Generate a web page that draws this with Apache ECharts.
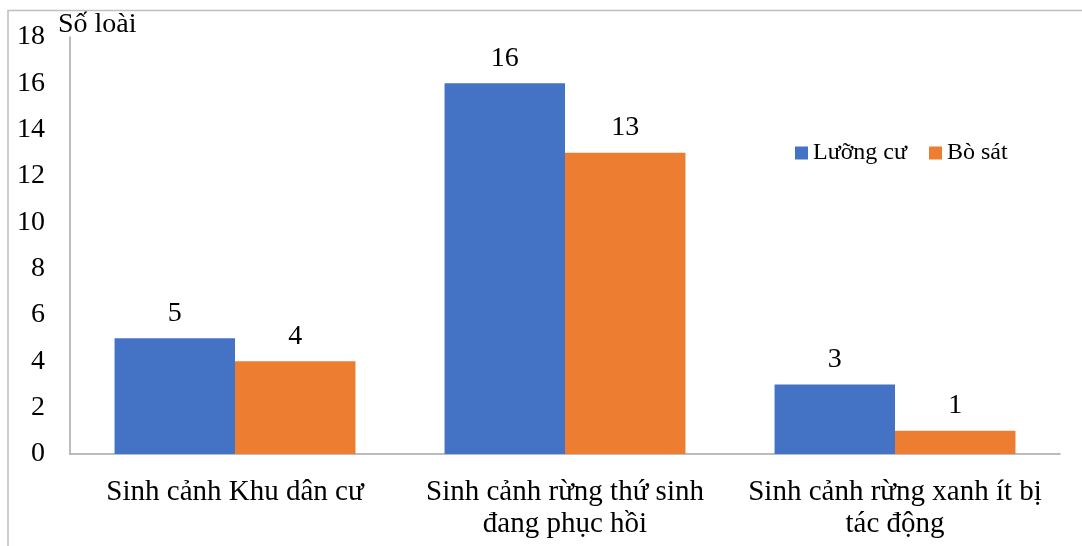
<!DOCTYPE html>
<html>
<head>
<meta charset="utf-8">
<script src="https://cdn.jsdelivr.net/npm/echarts@6/dist/echarts.min.js"></script>
<style>
  html, body { margin: 0; padding: 0; background: #fff; }
  #chart { width: 1082px; height: 546px; }
</style>
</head>
<body>
<div id="chart"></div>
<script>
// Habitat categories (x axis)
const categories = [
  'Sinh cảnh Khu dân cư',
  'Sinh cảnh rừng thứ sinh\nđang phục hồi',
  'Sinh cảnh rừng xanh ít bị\ntác động'
];
// Species counts per habitat
const amphibians = [5, 16, 3];   // Lưỡng cư
const reptiles = [4, 13, 1];     // Bò sát
const seriesNames = ['Lưỡng cư', 'Bò sát'];
const yTicks = { min: 0, max: 18, interval: 2 };

const FONT = '"Liberation Serif", "DejaVu Serif", serif';

const chart = echarts.init(document.getElementById('chart'), null, { renderer: 'canvas' });

const labelStyle = {
  show: true,
  position: 'top',
  distance: 11,
  color: '#000',
  fontFamily: FONT,
  fontSize: 28
};

chart.setOption({
  backgroundColor: '#fff',
  animation: false,
  graphic: [
    {
      type: 'polyline',
      shape: { points: [[8, 546], [8, 10.5], [1082, 10.5]] },
      style: { stroke: '#bfbfbf', lineWidth: 1.5, fill: null }
    }
  ],
  legend: {
    left: 790,
    top: 136,
    itemWidth: 13,
    itemHeight: 13,
    itemGap: 22,
    icon: 'rect',
    textStyle: { fontFamily: FONT, fontSize: 24, color: '#000' },
    data: seriesNames
  },
  grid: { left: 70, right: 22, top: 37, bottom: 92, containLabel: false },
  xAxis: {
    type: 'category',
    data: categories,
    axisLine: { lineStyle: { color: '#a6a6a6', width: 1.5 } },
    axisTick: { show: false },
    axisLabel: {
      margin: 22,
      interval: 0,
      color: '#000',
      fontFamily: FONT,
      fontSize: 29,
      lineHeight: 32
    }
  },
  yAxis: {
    type: 'value',
    min: yTicks.min,
    max: yTicks.max,
    interval: yTicks.interval,
    name: 'Số loài',
    nameLocation: 'end',
    nameGap: 0,
    nameTextStyle: {
      fontFamily: FONT, fontSize: 28, color: '#000',
      align: 'left', verticalAlign: 'bottom', padding: [0, 0, -2, -12]
    },
    axisLine: { show: true, lineStyle: { color: '#a6a6a6', width: 1.5 } },
    axisTick: { show: false },
    splitLine: { show: false },
    axisLabel: {
      margin: 25,
      color: '#000',
      fontFamily: FONT,
      fontSize: 28
    }
  },
  series: [
    {
      name: seriesNames[0],
      type: 'bar',
      data: amphibians,
      barGap: '0%',
      barCategoryGap: '27%',
      itemStyle: { color: '#4472C4' },
      label: labelStyle
    },
    {
      name: seriesNames[1],
      type: 'bar',
      data: reptiles,
      itemStyle: { color: '#ED7D31' },
      label: labelStyle
    }
  ]
});
</script>
</body>
</html>
